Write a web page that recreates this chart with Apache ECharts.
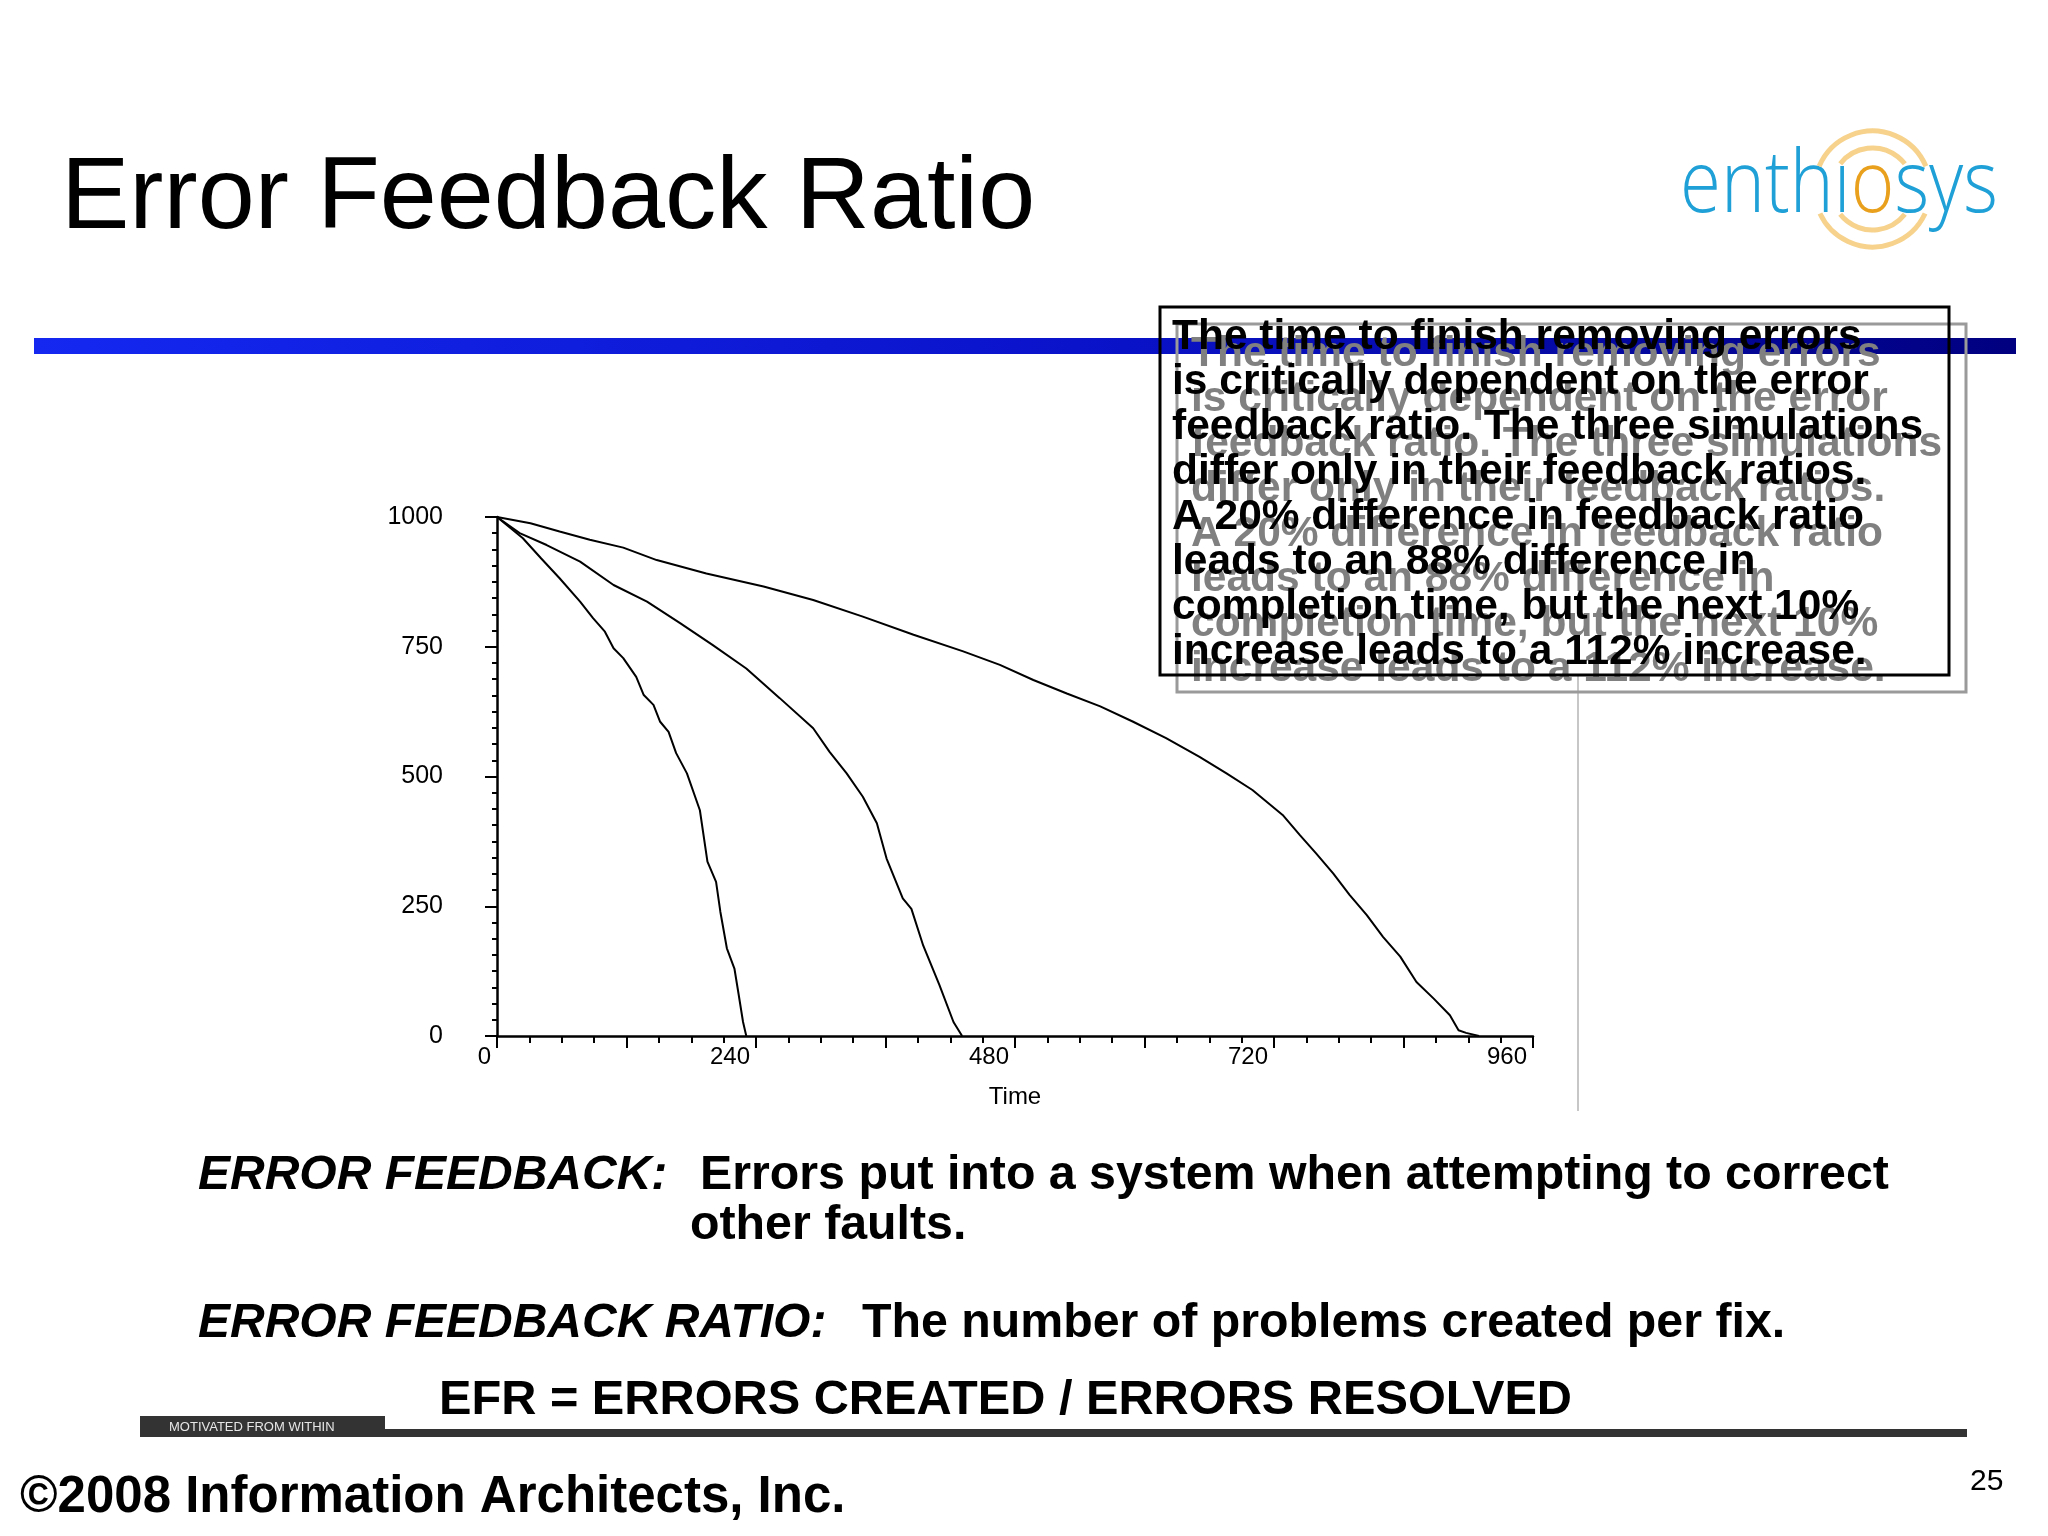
<!DOCTYPE html>
<html>
<head>
<meta charset="utf-8">
<script src="https://cdn.jsdelivr.net/npm/echarts@6/dist/echarts.min.js"></script>
<style>
html,body{margin:0;padding:0;background:#fff;}
#chart{width:2048px;height:1536px;}
</style>
</head>
<body>
<div id="chart"></div>
<script>
// ---- data ----
const timeFast   = [0, 24, 41, 58, 77, 89, 100, 108, 117, 129, 136, 145, 151, 159, 166, 176, 188, 195, 203, 207, 213, 220, 224, 228, 231];
const errorsFast = [1000, 959, 920, 882, 837, 805, 779, 747, 728, 692, 657, 638, 606, 586, 545, 506, 435, 336, 297, 239, 169, 130, 79, 27, 0];

const timeMid    = [0, 21, 46, 77, 108, 139, 170, 200, 231, 262, 293, 308, 324, 339, 352, 361, 376, 384, 395, 410, 423, 431];
const errorsMid  = [1000, 969, 946, 914, 869, 837, 795, 753, 708, 651, 593, 548, 506, 461, 410, 342, 265, 245, 174, 98, 27, 0];

const timeSlow   = [0, 31, 58, 86, 117, 148, 194, 247, 293, 339, 386, 432, 466, 497, 528, 559, 589, 620, 651, 676, 700, 728, 744, 759, 775, 790, 806, 821, 837, 852, 868, 883, 891, 898, 910];
const errorsSlow = [1000, 988, 972, 956, 941, 917, 891, 866, 840, 808, 773, 741, 715, 686, 660, 635, 606, 574, 538, 506, 474, 426, 387, 352, 313, 272, 233, 191, 153, 104, 72, 40, 11, 6, 0];

const xTickLabels = [0, 240, 480, 720, 960];
const yTickLabels = [0, 250, 500, 750, 1000];
const xAxisName = 'Time';

const titleText = 'Error Feedback Ratio';
const boxLines = [
  'The time to finish removing errors',
  'is critically dependent on the error',
  'feedback ratio. The three simulations',
  'differ only in their feedback ratios.',
  'A 20% difference in feedback ratio',
  'leads to an 88% difference in',
  'completion time, but the next 10%',
  'increase leads to a 112% increase.'
];
const def1Label = 'ERROR FEEDBACK:';
const def1Text1 = 'Errors put into a system when attempting to correct';
const def1Text2 = 'other faults.';
const def2Label = 'ERROR FEEDBACK RATIO:';
const def2Text = 'The number of problems created per fix.';
const formulaText = 'EFR = ERRORS CREATED / ERRORS RESOLVED';
const footerTag = 'MOTIVATED FROM WITHIN';
const copyrightText = '\u00A92008 Information Architects, Inc.';
const pageNumber = '25';

// ---- helpers ----
const FONT = '"Liberation Sans", Arial, Helvetica, sans-serif';
function pairs(ts, vs) { return ts.map((t, i) => [t, vs[i]]); }
function txt(x, y, text, size, opts) {
  opts = opts || {};
  return {
    type: 'text', x: x, y: y, z: opts.z || 10,
    style: {
      text: text,
      fill: opts.fill || '#000',
      fontSize: size,
      fontFamily: opts.family || FONT,
      fontWeight: opts.weight || 'normal',
      fontStyle: opts.style || 'normal',
      lineHeight: opts.lineHeight,
      align: opts.align || 'left',
      verticalAlign: opts.va || 'middle'
    }
  };
}

// logo measurement (layout only)
const logoFontFamily = '"Open Sans", "Noto Sans", sans-serif';
const logoSize = 86;
const mctx = document.createElement('canvas').getContext('2d');
mctx.font = '300 ' + logoSize + 'px ' + logoFontFamily;
const logoFullW = mctx.measureText('enth\u0131osys').width;
const logoPrefixW = mctx.measureText('enth\u0131').width;
const logoOW = mctx.measureText('o').width;
const logoLeft = 1680, logoTargetW = 318;
const logoSX = logoTargetW / logoFullW;
const oCx = logoLeft + logoSX * (logoPrefixW + logoOW / 2);
const oCy = 189;
const deg = Math.PI / 180;
const arcColor = '#f6d28c';

const graphics = [
  // title
  txt(61, 200, titleText, 102.5),
  // blue bar
  { type: 'rect', z: 1, shape: { x: 34, y: 338, width: 1982, height: 16 },
    style: { fill: new echarts.graphic.LinearGradient(0, 0, 1, 0, [
      { offset: 0, color: '#1428f0' }, { offset: 0.55, color: '#0a12c8' }, { offset: 1, color: '#000080' }]) } },
  // logo arcs
  { type: 'arc', z: 2, shape: { cx: oCx, cy: oCy, r: 58, startAngle: -157 * deg, endAngle: -23 * deg },
    style: { stroke: arcColor, lineWidth: 5, fill: null } },
  { type: 'arc', z: 2, shape: { cx: oCx, cy: oCy, r: 41, startAngle: -142 * deg, endAngle: -38 * deg },
    style: { stroke: arcColor, lineWidth: 5, fill: null } },
  { type: 'arc', z: 2, shape: { cx: oCx, cy: oCy, r: 58, startAngle: 25 * deg, endAngle: 155 * deg },
    style: { stroke: arcColor, lineWidth: 5, fill: null } },
  { type: 'arc', z: 2, shape: { cx: oCx, cy: oCy, r: 41, startAngle: 38 * deg, endAngle: 142 * deg },
    style: { stroke: arcColor, lineWidth: 5, fill: null } },
  // logo text
  { type: 'group', x: logoLeft, y: 187, scaleX: logoSX, z: 3, children: [
    { type: 'text', style: {
      text: '{b|enth\u0131}{o|o}{b|sys}',
      fontSize: logoSize, fontFamily: logoFontFamily, fontWeight: 300,
      verticalAlign: 'middle', align: 'left',
      rich: {
        b: { fill: '#1fa0d6', fontSize: logoSize, fontFamily: logoFontFamily, fontWeight: 300 },
        o: { fill: '#e9a01c', fontSize: logoSize, fontFamily: logoFontFamily, fontWeight: 300 }
      } } }
  ] },
  // gray shadow box + text
  { type: 'rect', z: 4, shape: { x: 1177, y: 324, width: 789, height: 368 },
    style: { fill: null, stroke: '#9a9a9a', lineWidth: 3 } },
  txt(1191, 332, boxLines.join('\n'), 42.5, { weight: 'bold', fill: '#808080', lineHeight: 45, va: 'top', z: 5 }),
  // black box + text
  { type: 'rect', z: 6, shape: { x: 1160, y: 307, width: 789, height: 368 },
    style: { fill: null, stroke: '#000', lineWidth: 3 } },
  txt(1172, 315, boxLines.join('\n'), 42.5, { weight: 'bold', fill: '#000', lineHeight: 45, va: 'top', z: 7 }),
  // thin vertical line
  { type: 'line', z: 3, shape: { x1: 1578, y1: 676, x2: 1578, y2: 1111 },
    style: { stroke: '#b4b4b4', lineWidth: 1.5 } },
  // definitions
  txt(198, 1176, def1Label, 48, { weight: 'bold', style: 'italic' }),
  txt(700, 1176, def1Text1, 48.3, { weight: 'bold' }),
  txt(690, 1226, def1Text2, 48.3, { weight: 'bold' }),
  txt(198, 1324, def2Label, 48, { weight: 'bold', style: 'italic' }),
  txt(862, 1324, def2Text, 48.3, { weight: 'bold' }),
  txt(439, 1401, formulaText, 48.7, { weight: 'bold' }),
  // footer
  { type: 'rect', z: 2, shape: { x: 140, y: 1416, width: 245, height: 21 }, style: { fill: '#333' } },
  { type: 'rect', z: 2, shape: { x: 385, y: 1429, width: 1582, height: 8 }, style: { fill: '#333' } },
  txt(169, 1427, footerTag, 13, { fill: '#e6e6e6', z: 3 }),
  txt(20, 1498, copyrightText, 51, { weight: 'bold' }),
  txt(1970, 1482, pageNumber, 30)
];

function lineSeries(name, ts, vs) {
  return {
    name: name, type: 'line', data: pairs(ts, vs), showSymbol: false, symbol: 'none',
    lineStyle: { color: '#000', width: 2 }, silent: true, z: 3
  };
}

const chart = echarts.init(document.getElementById('chart'), null, { renderer: 'canvas' });
chart.setOption({
  animation: false,
  backgroundColor: '#fff',
  grid: { left: 497, right: 515, top: 517, bottom: 500, containLabel: false },
  xAxis: {
    type: 'value', min: 0, max: 960, interval: 120,
    name: xAxisName, nameLocation: 'middle', nameGap: 49,
    nameTextStyle: { color: '#000', fontSize: 24, fontFamily: FONT },
    axisLine: { show: true, onZero: false, lineStyle: { color: '#000', width: 2.5 } },
    axisTick: { show: true, length: 12, lineStyle: { color: '#000', width: 2 } },
    minorTick: { show: true, splitNumber: 4, length: 7, lineStyle: { color: '#000', width: 2 } },
    splitLine: { show: false }, minorSplitLine: { show: false },
    axisLabel: {
      color: '#000', fontSize: 24, fontFamily: FONT, align: 'right', margin: 9,
      padding: [0, 6, 0, 0],
      formatter: v => xTickLabels.includes(v) ? String(v) : ''
    }
  },
  yAxis: {
    type: 'value', min: 0, max: 1000, interval: 250,
    axisLine: { show: true, onZero: false, lineStyle: { color: '#000', width: 2.5 } },
    axisTick: { show: true, length: 12, lineStyle: { color: '#000', width: 2 } },
    minorTick: { show: true, splitNumber: 8, length: 5, lineStyle: { color: '#000', width: 2 } },
    splitLine: { show: false }, minorSplitLine: { show: false },
    axisLabel: {
      color: '#000', fontSize: 25, fontFamily: FONT, margin: 54,
      formatter: v => yTickLabels.includes(v) ? String(v) : ''
    }
  },
  series: [
    lineSeries('EFR low', timeFast, errorsFast),
    lineSeries('EFR mid', timeMid, errorsMid),
    lineSeries('EFR high', timeSlow, errorsSlow)
  ],
  graphic: { elements: graphics }
});
</script>
</body>
</html>
